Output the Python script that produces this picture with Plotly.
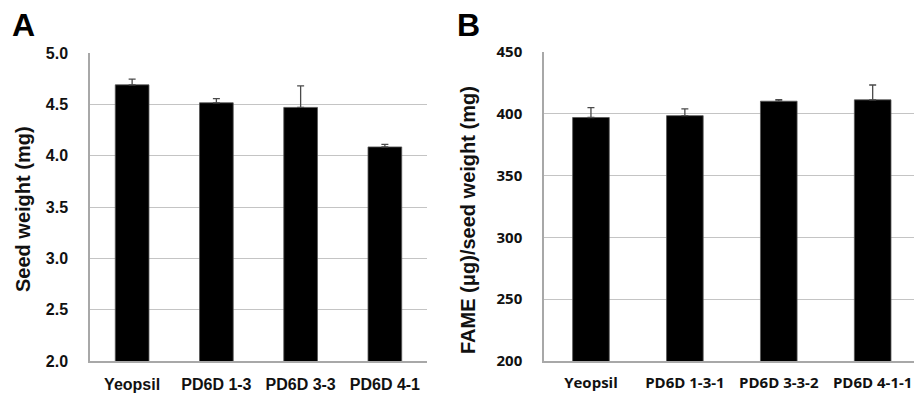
import plotly.graph_objects as go

W, H = 914, 393

# Panel A data
cats_a = ["Yeopsil", "PD6D 1-3", "PD6D 3-3", "PD6D 4-1"]
seed_weight = [4.69, 4.515, 4.47, 4.085]
seed_weight_err = [0.055, 0.04, 0.21, 0.025]

# Panel B data
cats_b = ["Yeopsil", "PD6D 1-3-1", "PD6D 3-3-2", "PD6D 4-1-1"]
fame = [397, 398.5, 410.2, 411.3]
fame_err = [8, 5.5, 1.2, 12]

ticks_a = [2.0, 2.5, 3.0, 3.5, 4.0, 4.5, 5.0]
ticks_b = [200, 250, 300, 350, 400, 450]


def px(x):
    return x / W


def py(y):
    return 1 - y / H


fig = go.Figure()
fig.add_trace(go.Bar(
    x=cats_a, y=seed_weight, xaxis="x", yaxis="y",
    marker=dict(color="black", line=dict(color="#555555", width=0.8)),
    width=0.40,
    error_y=dict(type="data", array=seed_weight_err, arrayminus=[0] * 4,
                 symmetric=False, color="#4a4a4a", thickness=1.3, width=3.5),
    showlegend=False,
))
fig.add_trace(go.Bar(
    x=cats_b, y=fame, xaxis="x2", yaxis="y2",
    marker=dict(color="black", line=dict(color="#555555", width=0.8)),
    width=0.39,
    error_y=dict(type="data", array=fame_err, arrayminus=[0] * 4,
                 symmetric=False, color="#4a4a4a", thickness=1.3, width=3.5),
    showlegend=False,
))

font_a = dict(family="Liberation Sans, Arial, sans-serif", size=16, color="#111111", weight="bold")
font_b = dict(family="Open Sans, sans-serif", size=15, color="#111111", weight="bold")
grid = "#c4c4c4"
axcol = "#a8a8a8"

fig.update_layout(
    width=W, height=H,
    margin=dict(l=0, r=0, t=0, b=0, autoexpand=False),
    paper_bgcolor="white", plot_bgcolor="white",
    bargap=0.6,
    xaxis=dict(domain=[px(90), px(427)], range=[-0.5, 3.5], showgrid=False,
               showline=True, linecolor=axcol, linewidth=1.5, tickfont=font_a,
               ticks="", ticklabelstandoff=8, automargin=False),
    yaxis=dict(domain=[py(361), py(53)], range=[2.0, 5.0], tickvals=ticks_a,
               ticktext=[f"{v:.1f}" for v in ticks_a], showgrid=True,
               gridcolor=grid, gridwidth=1.2, showline=True, linecolor=axcol,
               linewidth=1.5, zeroline=False, tickfont=font_a, ticks="",
               ticklabelstandoff=17, automargin=False),
    xaxis2=dict(domain=[px(544), 1.0], range=[-0.5, 3.44], showgrid=False,
                showline=True, linecolor=axcol, linewidth=1.5, tickfont=font_b,
                ticks="", ticklabelstandoff=7, anchor="y2", automargin=False),
    yaxis2=dict(domain=[py(361), py(52)], range=[200, 450], tickvals=ticks_b,
                showgrid=True, gridcolor=grid, gridwidth=1.2, showline=True,
                linecolor=axcol, linewidth=1.5, zeroline=False, tickfont=font_b,
                ticks="", ticklabelstandoff=17, anchor="x2", automargin=False),
)

title_font = dict(family="Liberation Sans, Arial, sans-serif", size=20, color="#111111", weight="bold")
letter_font = dict(family="Liberation Sans, Arial, sans-serif", size=32, color="black", weight="bold")

fig.add_annotation(text="Seed weight (mg)", xref="paper", yref="paper",
                   x=px(23), y=py(209), textangle=-90, showarrow=False,
                   font=title_font, xanchor="center", yanchor="middle")
fig.add_annotation(text="FAME (μg)/seed weight (mg)", xref="paper", yref="paper",
                   x=px(468), y=py(220), textangle=-90, showarrow=False,
                   font=title_font, xanchor="center", yanchor="middle")
fig.add_annotation(text="A", xref="paper", yref="paper", x=px(23), y=py(25),
                   showarrow=False, font=letter_font, xanchor="center", yanchor="middle")
fig.add_annotation(text="B", xref="paper", yref="paper", x=px(468), y=py(25),
                   showarrow=False, font=letter_font, xanchor="center", yanchor="middle")

fig.write_html(
    "out.html",
    config={"displayModeBar": False},
    post_script="document.body.style.margin='0';document.body.style.padding='0';",
)
